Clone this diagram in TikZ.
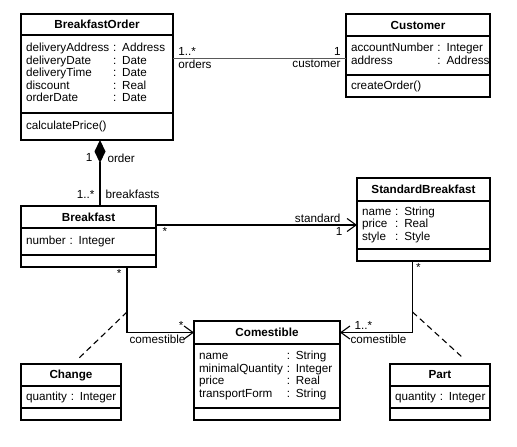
\documentclass[tikz,border=0pt]{standalone}
\usepackage{fontspec}
\setmainfont{Liberation Sans}
\usetikzlibrary{arrows.meta, positioning}

\begin{document}
\begin{tikzpicture}[
    x=1pt, y=-1pt, % pixel grid, y runs down
    node distance=0pt, % parts of one class touch
    every node/.style={font=\fontsize{11.7pt}{12.5pt}\selectfont},
    classbox/.style={draw, line width=1.1pt, outer sep=0pt, inner xsep=5pt, inner ysep=1pt},
    classname/.style={classbox, font=\fontsize{11.7pt}{12.5pt}\selectfont\bfseries, align=center, anchor=north},
    members/.style={classbox, align=left},
    assoc/.style={line width=1.1pt, -{Straight Barb[length=9pt, width=13pt]}}, % navigable association
    link/.style={line width=.8pt, gray!70!black},
    comp/.style={line width=1.1pt, {Diamond[length=23pt, width=11pt]}-}, % composition
    attach/.style={line width=1.1pt, dash pattern=on 6pt off 4pt},
    role/.style={inner sep=2pt, text=black}
  ]
  \useasboundingbox (0,0) rectangle (517,447);

  % Classes
  \node (orderName) [classname, text width=142pt, minimum height=21pt] at (97,14) {BreakfastOrder};
  \node (orderAttr) [members, text width=142pt, minimum height=78pt, below=of orderName] {%
    \begin{tabular}{@{}l@{\ }l@{}}
      deliveryAddress & : Address\\
      deliveryDate & : Date\\
      deliveryTime & : Date\\
      discount & : Real\\
      orderDate & : Date
    \end{tabular}};
  \node (orderOps) [members, text width=142pt, minimum height=27pt, below=of orderAttr] {calculatePrice()};

  \node (customerName) [classname, text width=134pt, minimum height=22pt] at (418,14) {Customer};
  \node (customerAttr) [members, text width=134pt, minimum height=39pt, below=of customerName] {%
    \begin{tabular}{@{}l@{\ }l@{}}
      accountNumber & : Integer\\
      address & : Address
    \end{tabular}};
  \node (customerOps) [members, text width=134pt, minimum height=22pt, below=of customerAttr] {createOrder()};

  \node (breakfastName) [classname, text width=125pt, minimum height=22pt] at (88.5,206) {Breakfast};
  \node (breakfastAttr) [members, text width=125pt, minimum height=27pt, below=of breakfastName] {number : Integer};
  \node (breakfastOps) [members, text width=125pt, minimum height=12pt, below=of breakfastAttr] {};

  \node (standardName) [classname, text width=123pt, minimum height=23pt] at (423.5,178) {StandardBreakfast};
  \node (standardAttr) [members, text width=123pt, minimum height=48pt, below=of standardName] {%
    \begin{tabular}{@{}l@{\ }l@{}}
      name & : String\\
      price & : Real\\
      style & : Style
    \end{tabular}};
  \node (standardOps) [members, text width=123pt, minimum height=12pt, below=of standardAttr] {};

  \node (comestibleName) [classname, text width=136pt, minimum height=23pt] at (267,321) {Comestible};
  \node (comestibleAttr) [members, text width=136pt, minimum height=64pt, below=of comestibleName] {%
    \begin{tabular}{@{}l@{\ }l@{}}
      name & : String\\
      minimalQuantity & : Integer\\
      price & : Real\\
      transportForm & : String
    \end{tabular}};
  \node (comestibleOps) [members, text width=136pt, minimum height=12pt, below=of comestibleAttr] {};

  \node (changeName) [classname, text width=90pt, minimum height=22pt] at (71,364) {Change};
  \node (changeAttr) [members, text width=90pt, minimum height=22pt, below=of changeName] {\mbox{quantity : Integer}};
  \node (changeOps) [members, text width=90pt, minimum height=12pt, below=of changeAttr] {};

  \node (partName) [classname, text width=90pt, minimum height=22pt] at (440,364) {Part};
  \node (partAttr) [members, text width=90pt, minimum height=22pt, below=of partName] {\mbox{quantity : Integer}};
  \node (partOps) [members, text width=90pt, minimum height=12pt, below=of partAttr] {};

  % Helper points
  \coordinate (customerLink) at ([yshift=-2.5pt]customerAttr.west);
  \coordinate (orderFoot) at ([xshift=3pt]orderOps.south);
  \coordinate (breakfastFoot) at ([xshift=38.5pt]breakfastOps.south);
  \coordinate (breakfastJoin) at ([yshift=-45pt]breakfastFoot);
  \coordinate (standardFoot) at ([xshift=-11pt]standardOps.south);
  \coordinate (standardJoin) at ([yshift=-51pt]standardFoot);

  % Associations
  \draw[link] (customerLink -| orderAttr.east) --
    node[role, pos=0, above right, xshift=3pt] {1..*}
    node[role, pos=0, below right, xshift=3pt] {orders}
    node[role, pos=1, above left, xshift=-3pt] {1}
    node[role, pos=1, below left, xshift=-3pt] {customer} (customerLink);
  \draw[comp] (orderFoot) --
    node[role, pos=.27, left, xshift=-5pt] {1}
    node[role, pos=.27, right, xshift=5pt] {order}
    node[role, pos=.83, left, xshift=-3pt] {1..*}
    node[role, pos=.83, right, xshift=3pt] {breakfasts} (orderFoot |- breakfastName.north);
  \draw[assoc] (breakfastName.east |- standardAttr.west) --
    node[role, pos=0, below right, xshift=4pt] {*}
    node[role, pos=1, above left, xshift=-14pt] {standard}
    node[role, pos=1, below left, xshift=-12pt] {1} (standardAttr.west);
  \draw[assoc] (breakfastFoot) |-
    node[role, pos=0, below left, xshift=-3pt] {*}
    node[role, pos=.5, below right] {comestible}
    node[role, pos=1, above left, xshift=-8pt] {*} (comestibleName.west);
  \draw[assoc] (standardFoot) |-
    node[role, pos=0, below right, xshift=1pt] {*}
    node[role, pos=1, above right, xshift=12pt] {1..*}
    node[role, pos=1, below right, xshift=8pt] {comestible} (comestibleName.east);

  % Association classes
  \draw[attach] (breakfastJoin) -- ([xshift=6pt, yshift=4pt]changeName.north);
  \draw[attach] (standardJoin) -- ([xshift=22pt, yshift=7pt]partName.north);
\end{tikzpicture}
\end{document}
